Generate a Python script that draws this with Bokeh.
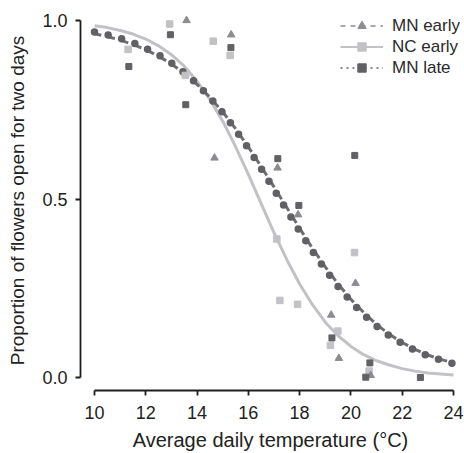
from bokeh.plotting import figure
from bokeh.models import Range1d, Legend, LegendItem, FixedTicker, PrintfTickFormatter
from bokeh.embed import file_html
from bokeh.resources import INLINE

# ---- data ----
temps = [10.0, 10.5, 11.0, 11.5, 12.0, 12.5, 13.0, 13.5, 14.0, 14.5, 15.0, 15.5, 16.0, 16.5,
         17.0, 17.5, 18.0, 18.5, 19.0, 19.5, 20.0, 20.5, 21.0, 21.5, 22.0, 22.5, 23.0, 23.5, 24.0]
fit_mn_early = [0.963, 0.955, 0.945, 0.933, 0.918, 0.900, 0.878, 0.852, 0.821, 0.785, 0.744, 0.697,
                0.646, 0.591, 0.534, 0.476, 0.418, 0.362, 0.310, 0.262, 0.219, 0.182, 0.149, 0.121,
                0.098, 0.079, 0.063, 0.051, 0.041]
fit_nc_early = [0.985, 0.980, 0.972, 0.962, 0.948, 0.929, 0.904, 0.872, 0.830, 0.779, 0.718, 0.647,
                0.569, 0.487, 0.406, 0.330, 0.262, 0.204, 0.155, 0.117, 0.087, 0.064, 0.047, 0.035,
                0.025, 0.018, 0.013, 0.010, 0.007]
fit_mn_late = [0.968, 0.960, 0.950, 0.938, 0.922, 0.904, 0.881, 0.854, 0.822, 0.784, 0.742, 0.694,
               0.642, 0.585, 0.527, 0.468, 0.410, 0.354, 0.302, 0.255, 0.213, 0.176, 0.144, 0.117,
               0.095, 0.076, 0.061, 0.049, 0.039]

mn_early_t = [13.59, 15.33, 14.68, 17.14, 17.94, 20.18, 19.23, 19.53, 20.77]
mn_early_p = [1.000, 0.960, 0.615, 0.587, 0.456, 0.264, 0.175, 0.054, 0.006]

nc_early_t = [11.31, 12.93, 13.54, 14.63, 15.29, 17.11, 17.23, 17.92, 20.14, 19.49, 19.20, 20.71]
nc_early_p = [0.919, 0.990, 0.846, 0.942, 0.902, 0.388, 0.216, 0.205, 0.350, 0.130, 0.090, 0.018]

mn_late_t = [11.34, 12.96, 13.56, 15.32, 17.15, 17.97, 20.15, 19.26, 20.74, 20.58, 22.71]
mn_late_p = [0.871, 0.960, 0.764, 0.924, 0.613, 0.482, 0.622, 0.111, 0.041, 0.001, 0.000]

x_ticks = [10, 12, 14, 16, 18, 20, 22, 24]
y_ticks = [0.0, 0.5, 1.0]
series_names = ["MN early", "NC early", "MN late"]
x_title = "Average daily temperature (°C)"
y_title = "Proportion of flowers open for two days"

# ---- styling ----
FONT = "Liberation Sans"
C_DARK = "#616165"
C_MID = "#8c8c90"
C_LIGHT = "#c2c2c6"
C_AXIS = "#1e1e1e"
C_TEXT = "#222222"
NAN = [float("nan")]

p = figure(width=464, height=453, output_backend="svg", toolbar_location=None,
           x_range=Range1d(9.454, 24.274), y_range=Range1d(-0.0363, 1.0279),
           min_border_left=80, min_border_right=4, min_border_top=10, min_border_bottom=60)
p.outline_line_color = None
p.grid.visible = False
p.background_fill_color = "white"
p.border_fill_color = "white"

# fitted curves
p.line(temps, fit_nc_early, line_color=C_LIGHT, line_width=3)
p.line(temps, fit_mn_early, line_color="#6e6e72", line_width=3, line_dash="7 7")
p.line(temps, fit_mn_late, line_color=C_DARK, line_width=7.5, line_dash="0 14", line_cap="round")

# observed points
p.scatter(nc_early_t, nc_early_p, marker="square", size=6.5, fill_color=C_LIGHT, line_color=C_LIGHT)
p.scatter(mn_early_t, mn_early_p, marker="triangle", size=7.5, fill_color=C_MID, line_color=C_MID)
p.scatter(mn_late_t, mn_late_p, marker="square", size=6, fill_color=C_DARK, line_color=C_DARK)

# legend proxies (a single NaN point each, so nothing is drawn in the plot)
l1 = p.line(NAN, NAN, line_color=C_MID, line_width=1.5, line_dash="5 5")
m1 = p.scatter(NAN, NAN, marker="triangle", size=9, fill_color=C_MID, line_color=C_MID)
l2 = p.line(NAN, NAN, line_color=C_LIGHT, line_width=2)
m2 = p.scatter(NAN, NAN, marker="square", size=8, fill_color=C_LIGHT, line_color=C_LIGHT)
l3 = p.line(NAN, NAN, line_color=C_DARK, line_width=1.5, line_dash="2 4")
m3 = p.scatter(NAN, NAN, marker="square", size=8, fill_color=C_DARK, line_color=C_DARK)

legend = Legend(items=[LegendItem(label=series_names[0], renderers=[l1, m1]),
                       LegendItem(label=series_names[1], renderers=[l2, m2]),
                       LegendItem(label=series_names[2], renderers=[l3, m3])],
                location=(260, 312), padding=0, margin=0, spacing=0,
                glyph_width=43, glyph_height=21, label_height=21, label_standoff=9,
                border_line_color=None, background_fill_alpha=0,
                label_text_font=FONT, label_text_font_size="17px", label_text_color="#2a2a2a")
p.add_layout(legend)

# axes
xa = p.xaxis[0]
xa.ticker = FixedTicker(ticks=x_ticks)
xa.bounds = (x_ticks[0], x_ticks[-1])
xa.axis_label = x_title
ya = p.yaxis[0]
ya.ticker = FixedTicker(ticks=y_ticks)
ya.bounds = (y_ticks[0], y_ticks[-1])
ya.formatter = PrintfTickFormatter(format="%.1f")
ya.axis_label = y_title

for ax in (xa, ya):
    ax.axis_line_color = C_AXIS
    ax.axis_line_width = 1.8
    ax.major_tick_line_color = C_AXIS
    ax.major_tick_line_width = 1.8
    ax.major_tick_in = 0
    ax.major_tick_out = 5
    ax.minor_tick_line_color = None
    ax.major_label_text_font = FONT
    ax.major_label_text_font_size = "18px"
    ax.major_label_text_color = C_TEXT
    ax.axis_label_text_font = FONT
    ax.axis_label_text_font_style = "normal"
    ax.axis_label_text_color = C_TEXT

xa.axis_label_text_font_size = "20px"
ya.axis_label_text_font_size = "19px"
xa.major_label_standoff = 10
xa.axis_label_standoff = 7
ya.major_label_standoff = 8
ya.axis_label_standoff = 11

open("out.html", "w").write(file_html(p, INLINE))
